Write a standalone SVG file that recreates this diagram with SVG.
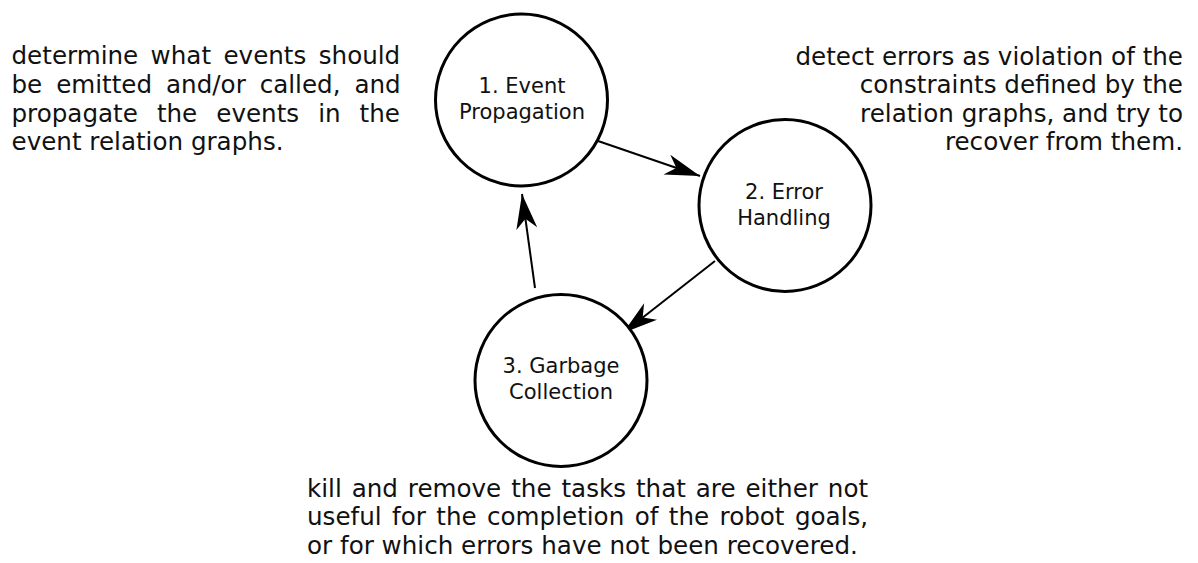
<svg xmlns="http://www.w3.org/2000/svg" width="1198" height="563" viewBox="0 0 1198 563">
<style>
.node circle{fill:#fff;stroke:#000;stroke-width:3}
.lbl{font-family:"DejaVu Sans",sans-serif;font-size:21px;fill:#111;text-anchor:middle}
.desc{font-family:"DejaVu Sans",sans-serif;font-size:24.6px;fill:#111}
.conn line{stroke:#000;stroke-width:2}
</style>
<defs>
<marker id="arr" markerUnits="userSpaceOnUse" orient="auto" refX="0" refY="0" markerWidth="40" markerHeight="30" overflow="visible">
<path d="M0,0 L-35,-10.5 L-25,0 L-35,10.5 Z" fill="#000"/>
</marker>
</defs>
<rect width="1198" height="563" fill="#fff"/>
<g id="connectors" class="conn">
<line x1="598" y1="141" x2="700" y2="176" marker-end="url(#arr)"/>
<line x1="715" y1="261" x2="623" y2="333" marker-end="url(#arr)"/>
<line x1="535" y1="288" x2="522" y2="194" marker-end="url(#arr)"/>
</g>
<g id="node1" class="node">
<circle cx="521.5" cy="100" r="86"/>
<text class="lbl" x="522" y="93.3">1. Event</text>
<text class="lbl" x="522" y="119.3">Propagation</text>
</g>
<g id="node2" class="node">
<circle cx="785" cy="205.5" r="86"/>
<text class="lbl" x="784" y="199">2. Error</text>
<text class="lbl" x="784" y="225">Handling</text>
</g>
<g id="node3" class="node">
<circle cx="561" cy="380.5" r="86"/>
<text class="lbl" x="561" y="372.7">3. Garbage</text>
<text class="lbl" x="561" y="398.7">Collection</text>
</g>
<g id="desc1">
<text class="desc" x="11.5" y="64" word-spacing="4.6">determine what events should</text>
<text class="desc" x="11.5" y="92.8" word-spacing="6.1">be emitted and/or called, and</text>
<text class="desc" x="11.5" y="121.5" word-spacing="11.2">propagate the events in the</text>
<text class="desc" x="11.5" y="150">event relation graphs.</text>
</g>
<g id="desc2" text-anchor="end">
<text class="desc" x="1183" y="65">detect errors as violation of the</text>
<text class="desc" x="1183" y="93.3">constraints defined by the</text>
<text class="desc" x="1183" y="121.7">relation graphs, and try to</text>
<text class="desc" x="1183" y="150">recover from them.</text>
</g>
<g id="desc3">
<text class="desc" x="307" y="497" word-spacing="2.1">kill and remove the tasks that are either not</text>
<text class="desc" x="307" y="525.3" word-spacing="2.6">useful for the completion of the robot goals,</text>
<text class="desc" x="307" y="553.6">or for which errors have not been recovered.</text>
</g>
</svg>
